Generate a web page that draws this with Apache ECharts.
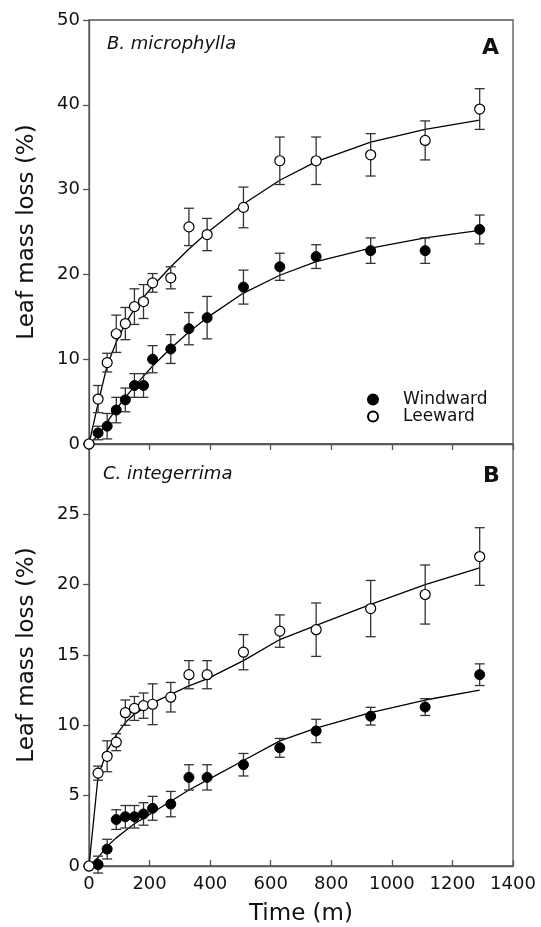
<!DOCTYPE html>
<html>
<head>
<meta charset="utf-8">
<script src="https://cdn.jsdelivr.net/npm/echarts@6/dist/echarts.min.js"></script>
<style>
  html, body { margin: 0; padding: 0; background: #fff; }
  #chart { width: 541px; height: 927px; }
</style>
</head>
<body>
<div id="chart"></div>
<script>
// sampling times (m), shared by both panels
const times = [0, 30, 60, 90, 120, 150, 180, 210, 270, 330, 390, 510, 630, 750, 930, 1110, 1290];

// panel A: B. microphylla
const windA = [0, 1.3, 2.1, 4.0, 5.2, 6.9, 6.9, 10.0, 11.2, 13.6, 14.9, 18.5, 20.9, 22.1, 22.8, 22.8, 25.3];
const windErrA = [0, 0.8, 1.5, 1.5, 1.4, 1.4, 1.4, 1.6, 1.7, 1.9, 2.5, 2.0, 1.6, 1.4, 1.5, 1.5, 1.7];
const leeA = [0, 5.3, 9.6, 13.0, 14.2, 16.2, 16.8, 19.0, 19.6, 25.6, 24.7, 27.9, 33.4, 33.4, 34.1, 35.8, 39.5];
const leeErrA = [0, 1.6, 1.1, 2.2, 1.9, 2.1, 2.0, 1.1, 1.3, 2.2, 1.9, 2.4, 2.8, 2.8, 2.5, 2.3, 2.4];
// fitted curves
const windFitA = [0, 1.0, 2.6, 4.1, 5.5, 6.8, 8.0, 9.2, 11.3, 13.2, 14.9, 17.8, 19.9, 21.5, 23.1, 24.3, 25.2];
const leeFitA = [0, 4.8, 9.3, 12.0, 14.2, 15.9, 17.3, 18.6, 20.9, 23.0, 24.9, 28.3, 31.1, 33.3, 35.6, 37.1, 38.2];

// panel B: C. integerrima
const windB = [0, 0.1, 1.2, 3.3, 3.5, 3.5, 3.7, 4.1, 4.4, 6.3, 6.3, 7.2, 8.4, 9.6, 10.65, 11.3, 13.6];
const windErrB = [0, 0.6, 0.7, 0.7, 0.8, 0.8, 0.8, 0.85, 0.9, 0.9, 0.9, 0.8, 0.67, 0.83, 0.63, 0.6, 0.77];
const leeB = [0, 6.6, 7.8, 8.8, 10.9, 11.2, 11.4, 11.5, 12.0, 13.6, 13.6, 15.2, 16.7, 16.8, 18.3, 19.3, 22.0];
const leeErrB = [0, 0.5, 1.1, 0.6, 0.9, 0.85, 0.9, 1.45, 1.05, 1.0, 1.0, 1.25, 1.15, 1.9, 2.0, 2.1, 2.05];
const windFitB = [0, 0.6, 1.4, 2.0, 2.5, 3.0, 3.4, 3.8, 4.6, 5.4, 6.1, 7.5, 8.9, 9.8, 10.9, 11.8, 12.5];
const leeFitB = [0, 6.4, 8.2, 9.3, 10.2, 10.8, 11.2, 11.6, 12.2, 12.8, 13.3, 14.6, 16.1, 17.1, 18.6, 20.0, 21.2];

// axis ticks
const xTicks = { min: 0, max: 1400, interval: 200 };
const yTicksA = { min: 0, max: 50, interval: 10 };
const yTicksB = { min: 0, max: 30, interval: 5 };

const FONT = 'DejaVu Sans';
const AXIS_COLOR = '#555';
const BAR_COLOR = '#333';

const pairs = (ys) => times.map((t, i) => [t, ys[i]]);
const bars = (ys, errs) => times.map((t, i) => [t, ys[i] - errs[i], ys[i] + errs[i]]);

// 误差线：竖线 + 上下横帽
function renderErrorBar(params, api) {
    const lo = api.value(1);
    const hi = api.value(2);
    if (hi - lo <= 0) {
        return null;
    }
    const top = api.coord([api.value(0), hi]);
    const bottom = api.coord([api.value(0), lo]);
    const w = 5;
    const style = { stroke: BAR_COLOR, lineWidth: 1.3 };
    return {
        type: 'group',
        children: [
            { type: 'line', shape: { x1: top[0], y1: top[1], x2: bottom[0], y2: bottom[1] }, style },
            { type: 'line', shape: { x1: top[0] - w, y1: top[1], x2: top[0] + w, y2: top[1] }, style },
            { type: 'line', shape: { x1: bottom[0] - w, y1: bottom[1], x2: bottom[0] + w, y2: bottom[1] }, style }
        ]
    };
}

function xAxisFor(gridIndex, showLabels) {
    return {
        type: 'value',
        gridIndex,
        ...xTicks,
        name: showLabels ? 'Time (m)' : '',
        nameLocation: 'middle',
        nameGap: 37,
        nameTextStyle: { fontFamily: FONT, fontSize: 23, color: '#111' },
        axisLine: { show: true, lineStyle: { color: AXIS_COLOR, width: 1.3 } },
        axisTick: { show: true, inside: showLabels, length: 6, lineStyle: { color: AXIS_COLOR, width: 1.3 } },
        axisLabel: { show: showLabels, margin: 9, fontFamily: FONT, fontSize: 18, color: '#111', formatter: (v) => String(v) },
        splitLine: { show: false }
    };
}

function yAxisFor(gridIndex, ticks, hideMax) {
    return {
        type: 'value',
        gridIndex,
        ...ticks,
        name: 'Leaf mass loss (%)',
        nameLocation: 'middle',
        nameGap: 50,
        nameTextStyle: { fontFamily: FONT, fontSize: 23, color: '#111' },
        axisLine: { show: true, lineStyle: { color: AXIS_COLOR, width: 1.3 } },
        axisTick: { show: true, inside: false, length: 6, lineStyle: { color: AXIS_COLOR, width: 1.3 } },
        axisLabel: {
            margin: 9,
            fontFamily: FONT,
            fontSize: 18,
            color: '#111',
            formatter: (v) => (hideMax && v === ticks.max ? '' : String(v))
        },
        splitLine: { show: false }
    };
}

function panelSeries(idx, wind, windErr, lee, leeErr, windFit, leeFit) {
    const base = { xAxisIndex: idx, yAxisIndex: idx };
    const fitLine = { type: 'line', smooth: false, showSymbol: false, silent: true,
        lineStyle: { color: '#000', width: 1.3 }, z: 2 };
    const errBar = { type: 'custom', renderItem: renderErrorBar, encode: { x: 0, y: [1, 2] }, silent: true, z: 3 };
    return [
        { ...base, ...fitLine, name: 'Windward fit', data: pairs(windFit) },
        { ...base, ...fitLine, name: 'Leeward fit', data: pairs(leeFit) },
        { ...base, ...errBar, name: 'Windward err', data: bars(wind, windErr) },
        { ...base, ...errBar, name: 'Leeward err', data: bars(lee, leeErr) },
        {
            ...base, type: 'scatter', name: 'Windward', symbol: 'circle', symbolSize: 10, clip: false, z: 4,
            itemStyle: { color: '#000', borderColor: '#000', borderWidth: 1, opacity: 1 },
            data: pairs(wind)
        },
        {
            ...base, type: 'scatter', name: 'Leeward', symbol: 'circle', symbolSize: 10, clip: false, z: 5,
            itemStyle: { color: '#fff', borderColor: '#000', borderWidth: 1.2, opacity: 1 },
            data: pairs(lee)
        }
    ];
}

const chart = echarts.init(document.getElementById('chart'), null, { renderer: 'canvas' });

chart.setOption({
    animation: false,
    backgroundColor: '#fff',
    title: [
        { text: 'B. microphylla', left: 102, top: 30, textStyle: { fontFamily: FONT, fontSize: 18, fontStyle: 'italic', fontWeight: 'normal', color: '#111' } },
        { text: 'A', left: 477, top: 32, textStyle: { fontFamily: FONT, fontSize: 22, fontWeight: 'bold', color: '#111' } },
        { text: 'C. integerrima', left: 98, top: 460, textStyle: { fontFamily: FONT, fontSize: 18, fontStyle: 'italic', fontWeight: 'normal', color: '#111' } },
        { text: 'B', left: 478, top: 460, textStyle: { fontFamily: FONT, fontSize: 22, fontWeight: 'bold', color: '#111' } }
    ],
    legend: {
        data: ['Windward', 'Leeward'],
        orient: 'vertical',
        left: 362,
        top: 386,
        itemWidth: 10,
        itemHeight: 10,
        itemGap: 0,
        selectedMode: false,
        textStyle: { fontFamily: FONT, fontSize: 17, color: '#111', lineHeight: 17, padding: [0, 0, 0, 20] }
    },
    grid: [
        { left: 89, top: 20, width: 424, height: 424, show: true, borderColor: AXIS_COLOR, borderWidth: 1.3 },
        { left: 89, top: 444, width: 424, height: 424, show: true, borderColor: AXIS_COLOR, borderWidth: 1.3 }
    ],
    xAxis: [xAxisFor(0, false), xAxisFor(1, true)],
    yAxis: [yAxisFor(0, yTicksA, false), yAxisFor(1, yTicksB, true)],
    series: [
        ...panelSeries(0, windA, windErrA, leeA, leeErrA, windFitA, leeFitA),
        ...panelSeries(1, windB, windErrB, leeB, leeErrB, windFitB, leeFitB)
    ]
});

window.addEventListener('resize', () => chart.resize());
</script>
</body>
</html>
